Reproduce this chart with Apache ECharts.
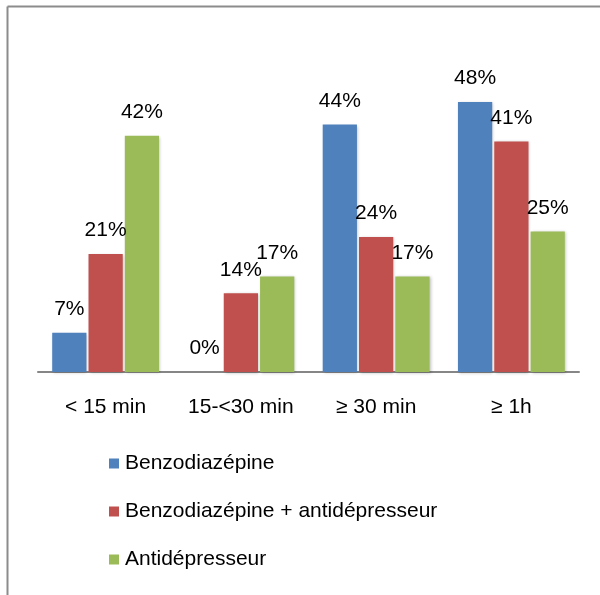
<!DOCTYPE html>
<html>
<head>
<meta charset="utf-8">
<script src="https://cdn.jsdelivr.net/npm/echarts@6/dist/echarts.min.js"></script>
<style>
  html, body { margin: 0; padding: 0; background: #fff; }
  #chart { width: 600px; height: 595px; }
</style>
</head>
<body>
<div id="chart"></div>
<script>
var categories = ['< 15 min', '15-<30 min', '≥ 30 min', '≥ 1h'];
var benzo = [7, 0, 44, 48];
var benzoAntidep = [21, 14, 24, 41];
var antidep = [42, 17, 17, 25];
var seriesNames = ['Benzodiazépine', 'Benzodiazépine + antidépresseur', 'Antidépresseur'];
var colors = ['#4F81BD', '#C0504D', '#9BBB59'];

var fontFamily = 'Liberation Sans, Arial, sans-serif';

function makeSeries(name, data, color) {
    return {
        name: name,
        type: 'bar',
        data: data,
        barGap: '6%',
        barCategoryGap: '21%',
        itemStyle: {
            color: color,
            shadowColor: 'rgba(0,0,0,0.25)',
            shadowBlur: 3,
            shadowOffsetX: 1,
            shadowOffsetY: 1
        },
        label: {
            show: true,
            position: 'top',
            distance: 13,
            formatter: '{c}%',
            color: '#000',
            fontSize: 21,
            fontFamily: fontFamily
        }
    };
}

var chart = echarts.init(document.getElementById('chart'));

var option = {
    animation: false,
    color: colors,
    graphic: [
        { type: 'line', shape: { x1: 7.5, y1: 6.5, x2: 600, y2: 6.5 }, style: { stroke: '#8c8c8c', lineWidth: 2 } },
        { type: 'line', shape: { x1: 7.5, y1: 6.5, x2: 7.5, y2: 595 }, style: { stroke: '#8c8c8c', lineWidth: 2 } }
    ],
    legend: {
        orient: 'vertical',
        left: 104,
        top: 448,
        itemWidth: 10,
        itemHeight: 10,
        itemGap: 27,
        icon: 'rect',
        data: seriesNames,
        textStyle: {
            fontSize: 21,
            color: '#000',
            fontFamily: fontFamily,
            padding: [0, 0, 0, 1]
        }
    },
    grid: {
        left: 38,
        right: 21,
        top: 90.75,
        height: 281.25,
        containLabel: false
    },
    xAxis: {
        type: 'category',
        data: categories,
        axisLine: { lineStyle: { color: '#868686', width: 2 } },
        axisTick: { show: false },
        axisLabel: {
            interval: 0,
            hideOverlap: false,
            margin: 25,
            color: '#000',
            fontSize: 21,
            fontFamily: fontFamily
        }
    },
    yAxis: {
        type: 'value',
        min: 0,
        max: 50,
        show: false,
        splitLine: { show: false }
    },
    series: [
        makeSeries(seriesNames[0], benzo, colors[0]),
        makeSeries(seriesNames[1], benzoAntidep, colors[1]),
        makeSeries(seriesNames[2], antidep, colors[2])
    ]
};

chart.setOption(option);
</script>
</body>
</html>
